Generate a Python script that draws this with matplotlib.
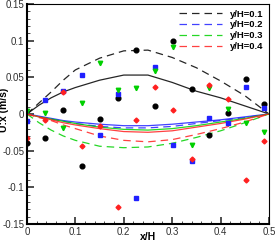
import numpy as np
import matplotlib
matplotlib.use("Agg")
import matplotlib.pyplot as plt
from matplotlib.ticker import MultipleLocator

plt.rcParams['font.family'] = ['Liberation Sans', 'DejaVu Sans']

# measured points (x/H) at the 14 probe locations
x_pts = [0.0, 0.0377, 0.0755, 0.113, 0.151, 0.189, 0.226, 0.264,
         0.302, 0.340, 0.377, 0.415, 0.453, 0.490]
u_01 = [-0.040, -0.033, 0.005, -0.071, -0.007, 0.022, 0.087, 0.011,
        0.100, 0.034, -0.029, 0.001, 0.048, 0.014]
u_02 = [-0.010, 0.019, 0.031, 0.053, -0.029, 0.027, -0.114, 0.064,
        -0.043, -0.064, -0.005, -0.012, 0.037, 0.008]
u_03 = [0.004, 0.001, -0.019, 0.0145, 0.069, 0.033, 0.035, 0.059,
        0.091, -0.043, 0.035, 0.007, -0.013, -0.024]
u_04 = [-0.033, -0.008, 0.0295, -0.044, -0.016, -0.127, -0.008, 0.037,
        0.005, -0.061, 0.039, 0.020, -0.090, -0.037]

# model curves
x_line = [0.0, 0.025, 0.05, 0.075, 0.1, 0.15, 0.2, 0.25, 0.3, 0.35, 0.4, 0.45, 0.5]
sol_01 = [0.0, 0.012, 0.022, 0.030, 0.036, 0.046, 0.053, 0.053, 0.043, 0.031, 0.022, 0.011, 0.0]
das_01 = [0.0, 0.015, 0.030, 0.046, 0.060, 0.076, 0.086, 0.087, 0.077, 0.063, 0.045, 0.025, 0.0]
sol_02 = [0.0, -0.003, -0.006, -0.009, -0.011, -0.014, -0.016, -0.016, -0.014, -0.011, -0.008, -0.004, 0.0]
das_02 = [0.0, -0.004, -0.007, -0.010, -0.013, -0.017, -0.019, -0.019, -0.017, -0.013, -0.009, -0.005, 0.0]
sol_03 = [0.0, -0.004, -0.007, -0.010, -0.013, -0.018, -0.021, -0.022, -0.020, -0.016, -0.011, -0.006, 0.0]
das_03 = [0.0, -0.012, -0.022, -0.030, -0.036, -0.044, -0.046, -0.045, -0.040, -0.032, -0.023, -0.012, 0.0]
sol_04 = [0.0, -0.004, -0.008, -0.012, -0.015, -0.020, -0.024, -0.025, -0.023, -0.018, -0.013, -0.007, 0.0]
das_04 = [0.0, -0.005, -0.009, -0.015, -0.020, -0.030, -0.036, -0.038, -0.035, -0.028, -0.020, -0.011, 0.0]

labels = ['y/H=0.1', 'y/H=0.2', 'y/H=0.3', 'y/H=0.4']
colors = ['black', '#2020ff', '#00d000', '#ff2020']

fig = plt.figure(figsize=(2.75, 2.44), dpi=100)
ax = fig.add_axes([0.098, 0.082, 0.88, 0.902])

dash = (0, (6, 4))
sols = [sol_01, sol_02, sol_03, sol_04]
dass = [das_01, das_02, das_03, das_04]
for s, d, c, lab in zip(sols, dass, colors, labels):
    ax.plot(x_line, s, color=c, lw=0.9, alpha=0.85)
    ax.plot(x_line, d, color=c, lw=0.9, ls=dash, alpha=0.85, label=lab)

ax.plot(x_pts, u_01, 'o', color='black', ms=3.4, ls='none')
ax.plot(x_pts, u_02, 's', color=colors[1], ms=2.8, ls='none')
ax.plot(x_pts, u_03, 'v', color=colors[2], ms=3.2, ls='none')
ax.plot(x_pts, u_04, 'D', color=colors[3], ms=2.5, ls='none')

ax.set_xlim(0, 0.5)
ax.set_ylim(-0.15, 0.15)
ax.xaxis.set_major_locator(MultipleLocator(0.1))
ax.xaxis.set_minor_locator(MultipleLocator(0.02))
ax.yaxis.set_major_locator(MultipleLocator(0.05))
ax.yaxis.set_minor_locator(MultipleLocator(0.01))
ax.tick_params(which='both', direction='in', top=False, right=False,
               labelsize=7, colors='#303030', pad=2)
ax.tick_params(which='major', length=5, width=1.2)
ax.tick_params(which='minor', length=2.5, width=0.6)
ax.xaxis.set_major_formatter(plt.FuncFormatter(lambda v, p: f'{v:g}'))
ax.yaxis.set_major_formatter(plt.FuncFormatter(lambda v, p: f'{v:g}'))
for sp in ax.spines.values():
    sp.set_linewidth(0.8)
ax.spines['left'].set_linewidth(1.5)
ax.spines['bottom'].set_linewidth(1.5)

ax.set_xlabel('x/H', fontsize=7.5, fontweight='bold', va='center')
ax.xaxis.set_label_coords(0.5, -0.058)
ax.set_ylabel('U:x (m/s)', fontsize=7.5, fontweight='bold')
ax.yaxis.set_label_coords(-0.075, 0.52)

leg = ax.legend(loc='upper right', frameon=False, fontsize=6.8, handlelength=4.6,
                labelspacing=0.2, borderaxespad=0.2, handletextpad=0.8)
for t in leg.get_texts():
    t.set_fontweight('bold')

fig.savefig('out.png', dpi=100)
